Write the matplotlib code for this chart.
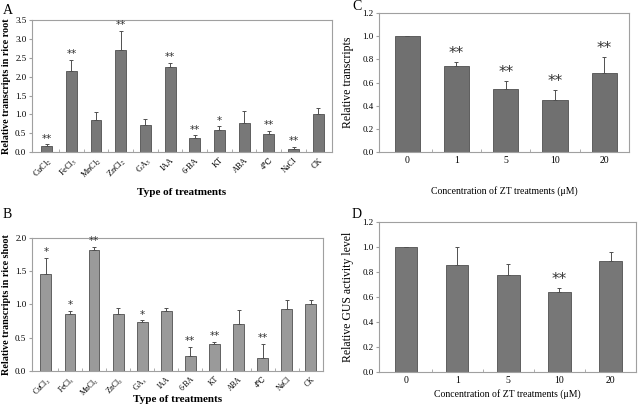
import numpy as np
import matplotlib
matplotlib.use('Agg')
import matplotlib.pyplot as plt

plt.rcParams['font.family'] = ['Liberation Serif', 'DejaVu Serif']
plt.rcParams['mathtext.fontset'] = 'stix'

# Данные панелей A и B
treatments = ['CuCl$_2$', 'FeCl$_3$', 'MnCl$_2$', 'ZnCl$_2$', 'GA$_3$', 'IAA',
              '6-BA', 'KT', 'ABA', '4℃', 'NaCl', 'CK']
root_vals = [0.15, 2.15, 0.86, 2.72, 0.71, 2.27, 0.37, 0.58, 0.77, 0.47, 0.09, 1.00]
root_err = [0.05, 0.30, 0.19, 0.50, 0.18, 0.10, 0.07, 0.10, 0.31, 0.10, 0.05, 0.18]
root_sig = ['**', '**', '', '**', '', '**', '**', '*', '', '**', '**', '']

shoot_vals = [1.46, 0.86, 1.82, 0.85, 0.74, 0.90, 0.23, 0.40, 0.71, 0.19, 0.93, 1.00]
shoot_err = [0.24, 0.04, 0.05, 0.10, 0.02, 0.04, 0.13, 0.04, 0.21, 0.22, 0.14, 0.07]
shoot_sig = ['*', '*', '**', '', '*', '', '**', '**', '', '**', '', '']

# Данные панелей C и D
zt_conc = ['0', '1', '5', '10', '20']
zt_vals = [1.00, 0.745, 0.545, 0.45, 0.68]
zt_err = [0.0, 0.035, 0.07, 0.085, 0.14]
zt_sig = ['', '**', '**', '**', '**']

gus_vals = [1.00, 0.86, 0.775, 0.64, 0.885]
gus_err = [0.0, 0.14, 0.09, 0.03, 0.075]
gus_sig = ['', '', '', '**', '']

fig = plt.figure(figsize=(6.38, 4.12), dpi=100)
spine_col = '#a0a0a0'


def draw_panel(ax, labels, vals, errs, sig, color, width, ylim, yticks, fmt,
               xlim, xt_size, ylabel, xlabel, bold, star_off, star_size):
    x = np.arange(len(vals))
    ax.bar(x, vals, width=width, color=color, edgecolor='#505050', linewidth=0.6,
           yerr=[np.zeros(len(errs)), errs], capsize=1.5,
           error_kw=dict(ecolor='#505050', elinewidth=0.7, capthick=0.7))
    for xi, v, e, s in zip(x, vals, errs, sig):
        if s:
            ax.text(xi, v + e + star_off, s, ha='center', va='bottom',
                    fontsize=star_size, color='#333333', family='DejaVu Sans')
    ax.set_xlim(*xlim)
    ax.set_ylim(*ylim)
    ax.set_yticks(yticks)
    ax.set_yticklabels([fmt % t for t in yticks], fontsize=6.5)
    ax.set_xticks(x)
    ax.set_xticks(np.arange(len(vals) - 1) + 0.5, minor=True)
    ax.tick_params(axis='x', which='major', length=0, pad=3)
    ax.tick_params(axis='x', which='minor', length=2, direction='in', color=spine_col)
    ax.tick_params(axis='y', length=2, color=spine_col, pad=2)
    if bold:
        ax.set_xticklabels(labels, rotation=45, ha='right', rotation_mode='anchor',
                           fontsize=xt_size)
    else:
        ax.set_xticklabels(labels, fontsize=xt_size)
    for sp in ax.spines.values():
        sp.set_color(spine_col)
        sp.set_linewidth(0.8)
    w = 'bold' if bold else 'normal'
    ax.set_ylabel(ylabel, fontsize=7.3 if bold else 8.5, fontweight=w)
    ax.set_xlabel(xlabel, fontsize=8 if bold else 7, fontweight=w)


axA = fig.add_axes([0.050, 0.631, 0.470, 0.320])
draw_panel(axA, treatments, root_vals, root_err, root_sig, '#787878', 0.44,
           (0, 3.5), np.arange(0, 3.51, 0.5), '%.1f', (-0.6, 11.55), 6,
           'Relative transcripts in rice root', 'Type of treatments', True, 0.02, 7.5)
axA.xaxis.set_label_coords(0.5, -0.273)
axA.yaxis.labelpad = 3

axB = fig.add_axes([0.050, 0.100, 0.456, 0.322])
draw_panel(axB, treatments, shoot_vals, shoot_err, shoot_sig, '#9a9a9a', 0.45,
           (0, 2.0), np.arange(0, 2.01, 0.5), '%.1f', (-0.58, 11.5), 5.5,
           'Relative transcripts in rice shoot', 'Type of treatments', True, 0.01, 7.5)
axB.xaxis.set_label_coords(0.5, -0.181)
axB.yaxis.labelpad = 3

axC = fig.add_axes([0.594, 0.631, 0.392, 0.337])
draw_panel(axC, zt_conc, zt_vals, zt_err, zt_sig, '#707070', 0.51,
           (0, 1.2), np.arange(0, 1.21, 0.2), '%.1f', (-0.57, 4.5), 7,
           'Relative transcripts', 'Concentration of ZT treatments (μM)', False, 0.01, 11)
axC.xaxis.labelpad = 15
axC.yaxis.labelpad = 6

axD = fig.add_axes([0.594, 0.097, 0.403, 0.364])
draw_panel(axD, zt_conc, gus_vals, gus_err, gus_sig, '#777777', 0.44,
           (0, 1.2), np.arange(0, 1.21, 0.2), '%.1f', (-0.53, 4.5), 7,
           'Relative GUS activity level', 'Concentration of ZT treatments (μM)', False, 0.01, 11)
axD.xaxis.labelpad = 3
axD.yaxis.labelpad = 6

for lab, (px, py) in zip('ABCD', [(3, 11), (3, 214), (352, 7), (352, 214)]):
    fig.text(px / 638, 1 - py / 412, lab, fontsize=10, ha='left', va='center')

fig.savefig('out.png', dpi=100)
